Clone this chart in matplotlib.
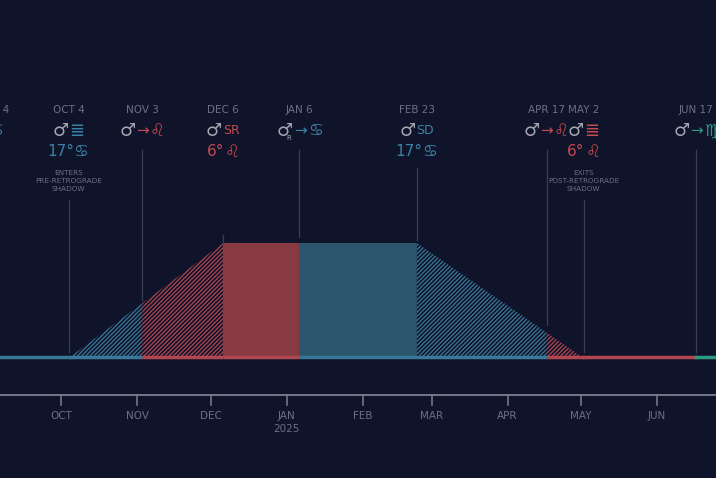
import matplotlib
matplotlib.use("Agg")
import matplotlib.pyplot as plt
import matplotlib.dates as mdates
import numpy as np
from datetime import date

BG = "#10142a"
RED = "#c24a50"
BLUE = "#3b82a6"
TEAL = "#2a9c82"
GRAY = "#a4a6b2"
DIM = "#6c7084"
RED_FILL = "#873a42"
BLUE_FILL = "#2b566e"

# phases: (start, end, color, hatched)
phase_starts = [date(2024, 10, 4), date(2024, 11, 3), date(2024, 12, 6), date(2025, 1, 6), date(2025, 2, 23), date(2025, 4, 17)]
phase_ends = [date(2024, 11, 3), date(2024, 12, 6), date(2025, 1, 6), date(2025, 2, 23), date(2025, 4, 17), date(2025, 5, 2)]
phase_colors = ["blue", "red", "red", "blue", "blue", "red"]
phase_hatched = [True, True, False, False, True, True]

# trapezoid profile (0 = baseline, 1 = top)
profile_dates = [date(2024, 10, 4), date(2024, 12, 6), date(2025, 2, 23), date(2025, 5, 2)]
profile_level = [0, 1, 1, 0]

# events
ev_dates = [date(2024, 9, 4), date(2024, 10, 4), date(2024, 11, 3), date(2024, 12, 6), date(2025, 1, 6),
            date(2025, 2, 23), date(2025, 4, 17), date(2025, 5, 2), date(2025, 6, 17)]
ev_labels = ["SEP 4", "OCT 4", "NOV 3", "DEC 6", "JAN 6", "FEB 23", "APR 17", "MAY 2", "JUN 17"]
ev_line_top = [None, 200, 150, 235, 150, 168, 150, 200, 150]
ev_line_bot = [None, 352, 300, 243, 237, 240, 325, 352, 352]

months = [date(2024, 10, 1), date(2024, 11, 1), date(2024, 12, 1), date(2025, 1, 1), date(2025, 2, 1),
          date(2025, 3, 1), date(2025, 4, 1), date(2025, 5, 1), date(2025, 6, 1)]
month_labels = ["OCT", "NOV", "DEC", "JAN", "FEB", "MAR", "APR", "MAY", "JUN"]

Y_BASE, Y_TOP = 358, 243
cmap = {"red": (RED_FILL, "#b04650"), "blue": (BLUE_FILL, "#3a7898")}

plt.rcParams["hatch.linewidth"] = 0.9
fig = plt.figure(figsize=(7.16, 4.78), dpi=100, facecolor=BG)
ax = fig.add_axes([0, 0, 1, 1])
ax.set_facecolor(BG)
ax.set_xlim(mdates.date2num(date(2024, 9, 6)), mdates.date2num(date(2025, 6, 25)))
ax.set_ylim(478, 0)
ax.axis("off")

pn = mdates.date2num(profile_dates)
for s, e, c, h in zip(phase_starts, phase_ends, phase_colors, phase_hatched):
    xs = np.linspace(mdates.date2num(s), mdates.date2num(e), 50)
    lvl = np.interp(xs, pn, profile_level)
    ytop = Y_BASE - lvl * (Y_BASE - Y_TOP)
    solid, hc = cmap[c]
    if h:
        ax.fill_between(xs, Y_BASE, ytop, facecolor=BG, edgecolor=hc, hatch="////////", linewidth=0)
    else:
        ax.fill_between(xs, Y_BASE, ytop, facecolor=solid, linewidth=0)
    ax.plot([xs[0], xs[-1]], [Y_BASE - 1, Y_BASE - 1], color=hc, lw=2.5, solid_capstyle="butt")

d = mdates.date2num
ax.plot([d(date(2024, 9, 6)), d(date(2024, 10, 4))], [Y_BASE - 1] * 2, color="#3a7898", lw=2.5)
ax.plot([d(date(2025, 5, 2)), d(date(2025, 6, 17))], [Y_BASE - 1] * 2, color="#b04650", lw=2.5)
ax.plot([d(date(2025, 6, 17)), d(date(2025, 6, 25))], [Y_BASE - 1] * 2, color=TEAL, lw=2.5)

# axis
ax.plot([d(date(2024, 9, 6)), d(date(2025, 6, 25))], [395, 395], color="#7c7f90", lw=1.3)
for m, lab in zip(months, month_labels):
    ax.plot([d(m)] * 2, [395, 405], color="#7c7f90", lw=1.1)
    ax.text(d(m), 416, lab, color=DIM, fontsize=7.5, ha="center", va="center")
ax.text(d(date(2025, 1, 1)), 429, "2025", color=DIM, fontsize=7.5, ha="center", va="center")

# event lines and date labels
for x, lab, t, b in zip(ev_dates, ev_labels, ev_line_top, ev_line_bot):
    ax.text(d(x), 110, lab, color=DIM, fontsize=7.5, ha="center", va="center")
    if t is not None:
        ax.plot([d(x)] * 2, [t, b], color="#3a3e52", lw=0.9)

def row(x, y, parts):
    # parts: list of (text, color, size, width in days)
    total = sum(p[3] for p in parts)
    cur = d(x) - total / 2
    for txt, col, size, w in parts:
        ax.text(cur + w / 2, y, txt, color=col, fontsize=size, ha="center", va="center")
        cur += w

row(ev_dates[0], 131, [("♋", BLUE, 12, 6)])
row(ev_dates[1], 131, [("♂", GRAY, 13, 6.5), ("≣", BLUE, 13, 6.5)])
row(ev_dates[1], 152, [("17°", BLUE, 11, 10), ("♋", BLUE, 12, 6.5)])
row(ev_dates[2], 131, [("♂", GRAY, 13, 6.5), ("→", RED, 11, 5.5), ("♌", RED, 12, 6.5)])
row(ev_dates[3], 131, [("♂", GRAY, 13, 6.5), ("SR", RED, 9, 7.5)])
row(ev_dates[3], 152, [("6°", RED, 11, 7.5), ("♌", RED, 12, 6.5)])
row(ev_dates[4], 131, [("♂", GRAY, 13, 7.5), ("→", BLUE, 11, 5.5), ("♋", BLUE, 12, 6.5)])
ax.text(d(ev_dates[4]) - 4.2, 138, "R", color=GRAY, fontsize=5, ha="center", va="center")
row(ev_dates[5], 131, [("♂", GRAY, 13, 6.5), ("SD", BLUE, 9, 7.5)])
row(ev_dates[5], 152, [("17°", BLUE, 11, 10), ("♋", BLUE, 12, 6.5)])
row(ev_dates[6], 131, [("♂", GRAY, 13, 6.5), ("→", RED, 11, 5.5), ("♌", RED, 12, 6.5)])
row(ev_dates[7], 131, [("♂", GRAY, 13, 6.5), ("≣", RED, 13, 6.5)])
row(ev_dates[7], 152, [("6°", RED, 11, 7.5), ("♌", RED, 12, 6.5)])
row(ev_dates[8], 131, [("♂", GRAY, 13, 6.5), ("→", TEAL, 11, 5.5), ("♍", TEAL, 12, 6.5)])

ax.text(d(ev_dates[1]), 181, "ENTERS\nPRE-RETROGRADE\nSHADOW", color=DIM, fontsize=5.2,
        ha="center", va="center", linespacing=1.35)
ax.text(d(ev_dates[7]), 181, "EXITS\nPOST-RETROGRADE\nSHADOW", color=DIM, fontsize=5.2,
        ha="center", va="center", linespacing=1.35)

fig.savefig("out.png", dpi=100, facecolor=BG)
